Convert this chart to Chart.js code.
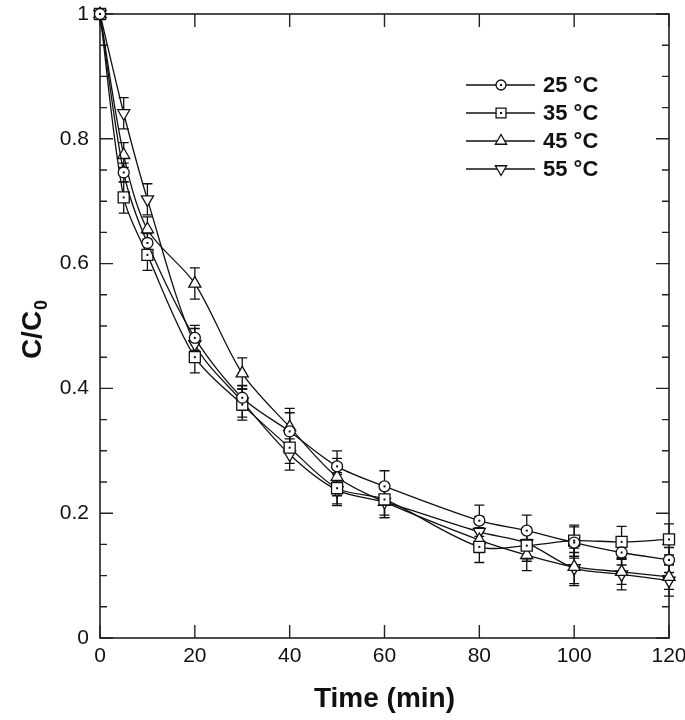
<!DOCTYPE html>
<html><head><meta charset="utf-8">
<script src="https://cdn.jsdelivr.net/npm/chart.js@4/dist/chart.umd.min.js"></script>
<style>html,body{margin:0;padding:0;background:#fff}#wrap{width:685px;height:720px;position:relative}</style>
</head><body><div id="wrap"><canvas id="c"></canvas></div>
<script>
// ---- data ----
const times = [0, 5, 10, 20, 30, 40, 50, 60, 80, 90, 100, 110, 120];
const seriesLabels = ['25 °C', '35 °C', '45 °C', '55 °C'];
const c25 = [1.0, 0.746, 0.633, 0.481, 0.385, 0.331, 0.275, 0.243, 0.188, 0.172, 0.153, 0.137, 0.125];
const c35 = [1.0, 0.706, 0.614, 0.450, 0.374, 0.305, 0.240, 0.222, 0.146, 0.148, 0.156, 0.154, 0.158];
const c45 = [1.0, 0.774, 0.655, 0.568, 0.424, 0.338, 0.258, 0.218, 0.157, 0.133, 0.114, 0.106, 0.098];
const c55 = [1.0, 0.841, 0.703, 0.471, 0.379, 0.294, 0.237, 0.218, 0.170, 0.152, 0.112, 0.102, 0.092];
const e25 = [0, 0.015, 0.015, 0.02, 0.02, 0.03, 0.025, 0.025, 0.025, 0.025, 0.025, 0.02, 0.02];
const e35 = [0, 0.025, 0.025, 0.025, 0.025, 0.025, 0.025, 0.025, 0.025, 0.025, 0.025, 0.025, 0.025];
const e45 = [0, 0.02, 0.02, 0.025, 0.025, 0.03, 0.03, 0.025, 0.02, 0.025, 0.03, 0.02, 0.02];
const e55 = [0, 0.025, 0.025, 0.025, 0.025, 0.025, 0.025, 0.025, 0.025, 0.025, 0.025, 0.025, 0.025];
const xTickStep = 20;
const yTickStep = 0.2;
const yMinorStep = 0.05;
const xTitle = 'Time (min)';
const yTitleMain = 'C/C';
const yTitleSub = '0';

const markers = [
  {style: 'circle', radius: 5.5, rotation: 0, dot: true},
  {style: 'rect', radius: 7.8, rotation: 0, dot: true},
  {style: 'triangle', radius: 7, rotation: 0, dot: false},
  {style: 'triangle', radius: 7, rotation: 180, dot: false}
];
const values = [c25, c35, c45, c55];
const errors = [e25, e35, e45, e55];

const datasets = values.map((vals, i) => ({
  label: seriesLabels[i],
  data: times.map((t, j) => ({x: t, y: vals[j]})),
  errors: errors[i],
  centerDot: markers[i].dot,
  borderColor: '#111',
  borderWidth: 1.3,
  backgroundColor: '#fff',
  pointStyle: markers[i].style,
  pointRadius: markers[i].radius,
  pointRotation: markers[i].rotation,
  pointBorderWidth: 1.3,
  pointBorderColor: '#111',
  pointBackgroundColor: '#fff',
  tension: 0.3,
  clip: false,
  fill: false
}));

const FONT = 'Liberation Sans, Arial, Helvetica, sans-serif';

const errorBars = {
  id: 'errorBars',
  beforeDatasetsDraw(chart) {
    const {ctx, scales: {x, y}} = chart;
    ctx.save();
    ctx.strokeStyle = '#111';
    ctx.lineWidth = 1.3;
    chart.data.datasets.forEach(ds => {
      ds.data.forEach((p, j) => {
        const e = ds.errors[j];
        if (!e) return;
        const px = x.getPixelForValue(p.x);
        const t = y.getPixelForValue(p.y + e);
        const b = y.getPixelForValue(p.y - e);
        ctx.beginPath();
        ctx.moveTo(px, t); ctx.lineTo(px, b);
        ctx.moveTo(px - 5, t); ctx.lineTo(px + 5, t);
        ctx.moveTo(px - 5, b); ctx.lineTo(px + 5, b);
        ctx.stroke();
      });
    });
    ctx.restore();
  }
};

function drawMarker(ctx, m, x, y, r) {
  ctx.beginPath();
  if (m.style === 'circle') {
    ctx.arc(x, y, r, 0, Math.PI * 2);
  } else if (m.style === 'rect') {
    const s = r * Math.SQRT1_2;
    ctx.rect(x - s, y - s, 2 * s, 2 * s);
  } else {
    const dir = m.rotation === 180 ? -1 : 1;
    ctx.moveTo(x, y - dir * r);
    ctx.lineTo(x - r * 0.866, y + dir * r * 0.5);
    ctx.lineTo(x + r * 0.866, y + dir * r * 0.5);
    ctx.closePath();
  }
  ctx.fillStyle = '#fff';
  ctx.fill();
  ctx.stroke();
  if (m.dot) {
    ctx.fillStyle = '#111';
    ctx.fillRect(x - 1, y - 1, 2, 2);
  }
}

const frameAndExtras = {
  id: 'frameAndExtras',
  beforeDatasetsDraw(chart) {
    const {ctx, chartArea: a, scales: {x, y}} = chart;
    ctx.save();
    // frame
    ctx.strokeStyle = '#222';
    ctx.lineWidth = 1.6;
    ctx.strokeRect(a.left, a.top, a.right - a.left, a.bottom - a.top);
    // ticks inward
    ctx.lineWidth = 1.4;
    ctx.beginPath();
    for (let v = 0; v <= x.max + 1e-9; v += xTickStep) {
      const px = x.getPixelForValue(v);
      ctx.moveTo(px, a.bottom); ctx.lineTo(px, a.bottom - 13);
      ctx.moveTo(px, a.top); ctx.lineTo(px, a.top + 13);
    }
    const n = Math.round((y.max - y.min) / yMinorStep);
    for (let k = 0; k <= n; k++) {
      const v = y.min + k * yMinorStep;
      const py = y.getPixelForValue(v);
      const major = Math.abs(v / yTickStep - Math.round(v / yTickStep)) < 1e-6;
      const len = major ? 13 : 7;
      ctx.moveTo(a.left, py); ctx.lineTo(a.left + len, py);
      ctx.moveTo(a.right, py); ctx.lineTo(a.right - len, py);
    }
    ctx.stroke();
    ctx.restore();
  },
  afterDatasetsDraw(chart) {
    const {ctx, scales: {x, y}} = chart;
    ctx.save();
    // centre dots
    chart.data.datasets.forEach(ds => {
      if (!ds.centerDot) return;
      ds.data.forEach(p => {
        const px = x.getPixelForValue(p.x), py = y.getPixelForValue(p.y);
        ctx.fillStyle = '#111';
        ctx.fillRect(px - 1, py - 1, 2, 2);
      });
    });
    // legend
    ctx.lineWidth = 1.3;
    ctx.strokeStyle = '#111';
    chart.data.datasets.forEach((ds, i) => {
      const ly = 85 + i * 28;
      ctx.beginPath();
      ctx.moveTo(466, ly); ctx.lineTo(535, ly);
      ctx.stroke();
      const m = markers[i];
      drawMarker(ctx, m, 501, ly, m.style === 'rect' ? 7 : (m.style === 'circle' ? 5 : 6.5));
      ctx.fillStyle = '#111';
      ctx.font = 'bold 22px ' + FONT;
      ctx.textAlign = 'left';
      ctx.textBaseline = 'middle';
      ctx.fillText(ds.label, 543, ly + 1);
    });
    // y title with subscript
    ctx.translate(31, 330);
    ctx.rotate(-Math.PI / 2);
    ctx.font = 'bold 28px ' + FONT;
    const wMain = ctx.measureText(yTitleMain).width;
    ctx.font = 'bold 18px ' + FONT;
    const wSub = ctx.measureText(yTitleSub).width;
    const start = -(wMain + wSub) / 2;
    ctx.textAlign = 'left';
    ctx.textBaseline = 'alphabetic';
    ctx.font = 'bold 28px ' + FONT;
    ctx.fillText(yTitleMain, start, 10);
    ctx.font = 'bold 18px ' + FONT;
    ctx.fillText(yTitleSub, start + wMain + 1, 16);
    ctx.restore();
  }
};

new Chart(document.getElementById('c'), {
  type: 'line',
  data: {datasets},
  options: {
    responsive: true,
    maintainAspectRatio: false,
    animation: false,
    layout: {padding: {top: 14, right: 16, left: 0, bottom: 0}},
    plugins: {legend: {display: false}, tooltip: {enabled: false}},
    scales: {
      x: {
        type: 'linear', min: 0, max: 120,
        ticks: {stepSize: xTickStep, color: '#111', font: {family: FONT, size: 21}, padding: 6, maxRotation: 0},
        grid: {display: false, drawTicks: false},
        border: {display: false},
        title: {display: true, text: xTitle, color: '#111', font: {family: FONT, size: 28, weight: 'bold'}, padding: {top: 7}},
        afterFit(s) { s.height = 82; s.paddingLeft = 0; s.paddingRight = 0; }
      },
      y: {
        type: 'linear', min: 0, max: 1,
        ticks: {stepSize: yTickStep, color: '#111', font: {family: FONT, size: 21}, padding: 11,
          callback: v => String(+v.toFixed(2))},
        grid: {display: false, drawTicks: false},
        border: {display: false},
        afterFit(s) { s.width = 100; s.paddingTop = 0; s.paddingBottom = 0; }
      }
    }
  },
  plugins: [errorBars, frameAndExtras]
});
</script>
</body></html>
